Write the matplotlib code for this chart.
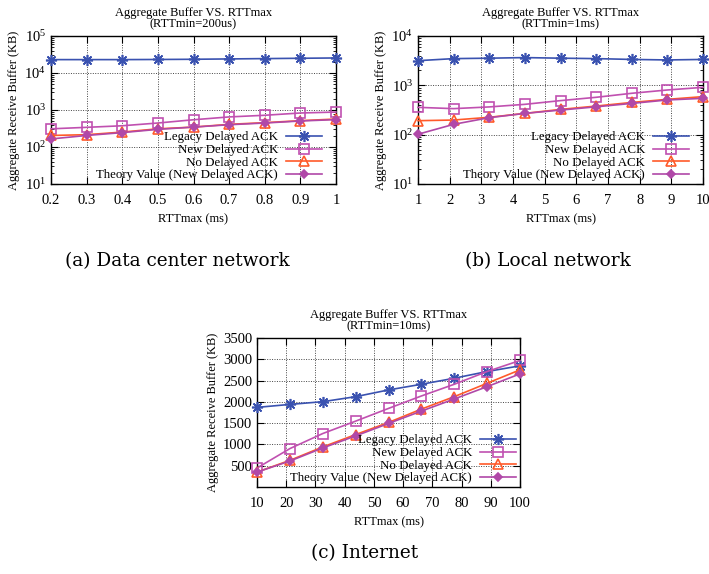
import matplotlib
matplotlib.use("Agg")
import matplotlib.pyplot as plt
from matplotlib.ticker import LogLocator, NullFormatter

plt.rcParams['font.family'] = ['Liberation Serif', 'DejaVu Serif']
plt.rcParams['mathtext.fontset'] = 'stix'

labels = ["Legacy Delayed ACK", "New Delayed ACK", "No Delayed ACK",
          "Theory Value (New Delayed ACK)"]

# (a) Data center network
xa = [0.2, 0.3, 0.4, 0.5, 0.6, 0.7, 0.8, 0.9, 1.0]
a_legacy = [23000, 23000, 23000, 23200, 23500, 24000, 24500, 25000, 25500]
a_new = [310, 340, 375, 445, 545, 650, 720, 830, 880]
a_nodel = [205, 215, 253, 310, 345, 410, 455, 515, 570]
a_theory = [165, 205, 245, 300, 345, 400, 445, 505, 550]

# (b) Local network
xb = [1, 2.125, 3.25, 4.375, 5.5, 6.625, 7.75, 8.875, 10]
b_legacy = [3160, 3480, 3550, 3650, 3550, 3480, 3350, 3270, 3350]
b_new = [358, 337, 365, 412, 490, 572, 690, 805, 910]
b_nodel = [192, 198, 225, 270, 325, 380, 450, 520, 590]
b_theory = [102, 162, 221, 270, 315, 367, 430, 505, 545]

# (c) Internet
xc = [10, 21.25, 32.5, 43.75, 55, 66.25, 77.5, 88.75, 100]
c_legacy = [1870, 1940, 2004, 2122, 2280, 2413, 2555, 2713, 2846]
c_new = [445, 902, 1256, 1547, 1846, 2138, 2413, 2713, 2972]
c_nodel = [350, 626, 941, 1232, 1516, 1830, 2122, 2437, 2752]
c_theory = [350, 610, 917, 1200, 1492, 1783, 2067, 2358, 2657]

titles = ["Aggregate Buffer VS. RTTmax\n(RTTmin=200us)",
          "Aggregate Buffer VS. RTTmax\n(RTTmin=1ms)",
          "Aggregate Buffer VS. RTTmax\n(RTTmin=10ms)"]
captions = ["(a) Data center network", "(b) Local network", "(c) Internet"]

a_xticks = [0.2, 0.3, 0.4, 0.5, 0.6, 0.7, 0.8, 0.9, 1.0]
a_xticklabels = ["0.2", "0.3", "0.4", "0.5", "0.6", "0.7", "0.8", "0.9", "1"]
b_xticks = [1, 2, 3, 4, 5, 6, 7, 8, 9, 10]
c_xticks = [10, 20, 30, 40, 50, 60, 70, 80, 90, 100]
c_yticks = [500, 1000, 1500, 2000, 2500, 3000, 3500]

colors = ['#3a52b0', '#c050b0', '#ff5a2a', '#b048a8']
markers = [(8, 2, 0), 's', '^', 'D']
mfc = ['none', 'none', 'none', '#b048a8']
msizes = [8, 7.5, 7, 4.5]

fig = plt.figure(figsize=(7.09, 5.74), dpi=100)
W, H = 709, 574

def make_axes(l, t, r, b):
    return fig.add_axes([l / W, 1 - b / H, (r - l) / W, (b - t) / H])

def draw(ax, x, series, title, legx):
    for i, y in enumerate(series):
        ax.plot(x, y, color=colors[i], marker=markers[i],
                markerfacecolor=mfc[i], markeredgecolor=colors[i],
                markersize=msizes[i], markeredgewidth=1.2, linewidth=1.2,
                label=labels[i], clip_on=False, zorder=3)
    ax.set_title(title, fontsize=9, pad=6, linespacing=1.0)
    ax.set_xlabel("RTTmax (ms)", fontsize=9, labelpad=5)
    ax.set_ylabel("Aggregate Receive Buffer (KB)", fontsize=9, labelpad=3)
    ax.grid(True, which='major', linestyle=(0, (1, 1.5)), color='#444444',
            linewidth=0.7)
    ax.tick_params(which='both', direction='in', top=True, right=True,
                   labelsize=10.5)
    ax.tick_params(axis='x', pad=7)
    ax.tick_params(which='major', length=5)
    ax.tick_params(which='minor', length=2.5)
    for s in ax.spines.values():
        s.set_linewidth(1.0)
    leg = ax.legend(loc='lower right', frameon=False, markerfirst=False,
                    fontsize=9.3, handlelength=2.8, labelspacing=0.05,
                    borderaxespad=0.0, borderpad=0.2, handletextpad=0.6,
                    bbox_to_anchor=(legx, 0.0))
    leg.set_zorder(5)
    return leg

# (a)
ax1 = make_axes(51, 36, 336, 184)
draw(ax1, xa, [a_legacy, a_new, a_nodel, a_theory], titles[0], 0.96)
ax1.set_yscale('log')
ax1.set_ylim(10, 1e5)
ax1.set_xlim(0.2, 1.0)
ax1.set_xticks(a_xticks)
ax1.set_xticklabels(a_xticklabels)
ax1.yaxis.set_major_locator(LogLocator(base=10, numticks=10))
ax1.yaxis.set_minor_locator(LogLocator(base=10, subs=range(2, 10), numticks=20))
ax1.yaxis.set_minor_formatter(NullFormatter())

# (b)
ax2 = make_axes(418, 36, 703, 184)
draw(ax2, xb, [b_legacy, b_new, b_nodel, b_theory], titles[1], 0.96)
ax2.set_yscale('log')
ax2.set_ylim(10, 1e4)
ax2.set_xlim(1, 10)
ax2.set_xticks(b_xticks)
ax2.yaxis.set_major_locator(LogLocator(base=10, numticks=10))
ax2.yaxis.set_minor_locator(LogLocator(base=10, subs=range(2, 10), numticks=20))
ax2.yaxis.set_minor_formatter(NullFormatter())

# (c)
ax3 = make_axes(257, 338, 520, 487)
draw(ax3, xc, [c_legacy, c_new, c_nodel, c_theory], titles[2], 0.995)
ax3.set_ylim(0, 3500)
ax3.set_xlim(10, 100)
ax3.set_xticks(c_xticks)
ax3.set_yticks(c_yticks)

fig.text(177 / W, 1 - 261 / H, captions[0], ha='center', va='center',
         fontsize=13.3, family=['DejaVu Serif'])
fig.text(548 / W, 1 - 261 / H, captions[1], ha='center', va='center',
         fontsize=13.3, family=['DejaVu Serif'])
fig.text(365 / W, 1 - 553 / H, captions[2], ha='center', va='center',
         fontsize=13.3, family=['DejaVu Serif'])

fig.savefig("out.png", dpi=100)
